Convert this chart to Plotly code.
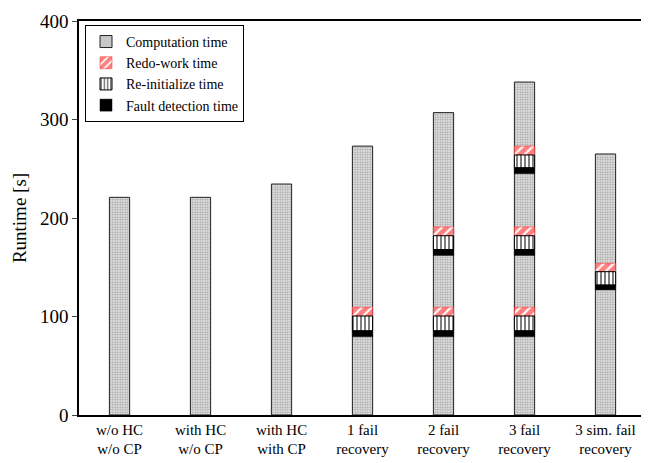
import plotly.graph_objects as go

categories = ["w/o HC<br>w/o CP", "with HC<br>w/o CP", "with HC<br>with CP",
              "1 fail<br>recovery", "2 fail<br>recovery", "3 fail<br>recovery",
              "3 sim. fail<br>recovery"]
total_runtime = [221, 221, 234.5, 273, 307, 338, 265]

# one entry per failure event
fail_category = [3, 4, 4, 5, 5, 5, 6]
detect_start = [79.5, 79.5, 162, 79.5, 162, 245, 127]
detect_time = [6, 6, 6, 6, 6, 6, 5]
reinit_time = [15, 15, 14, 15, 14, 13, 13.5]
redo_time = [9, 9, 9, 9, 9, 9, 8.5]

y_ticks = [0, 100, 200, 300, 400]

fx = [categories[i] for i in fail_category]
reinit_base = [s + d for s, d in zip(detect_start, detect_time)]
redo_base = [b + r for b, r in zip(reinit_base, reinit_time)]

FONT = "Liberation Serif, Times New Roman, serif"
W = 0.25

fig = go.Figure()
fig.add_trace(go.Bar(
    name="Computation time", x=categories, y=total_runtime, base=[0] * len(categories),
    width=W,
    marker=dict(color="#d4d4d4", line=dict(color="#222", width=1),
                pattern=dict(shape=".", fgcolor="#5a5a5a", bgcolor="#e0e0e0",
                             size=2.5, solidity=0.4)),
))
fig.add_trace(go.Bar(
    name="Redo-work time", x=fx, y=redo_time, base=redo_base, width=W,
    marker=dict(color="white", line=dict(color="#ff2020", width=0.5),
                pattern=dict(shape="/", fgcolor="#ff0000", bgcolor="white",
                             size=7, solidity=0.7)),
))
fig.add_trace(go.Bar(
    name="Re-initialize time", x=fx, y=reinit_time, base=reinit_base, width=W,
    marker=dict(color="white", line=dict(color="black", width=1),
                pattern=dict(shape="|", fgcolor="black", bgcolor="white",
                             size=4, solidity=0.5)),
))
fig.add_trace(go.Bar(
    name="Fault detection time", x=fx, y=detect_time, base=detect_start, width=W,
    marker=dict(color="black", line=dict(color="black", width=0.5)),
))

fig.update_layout(
    width=649, height=463,
    margin=dict(l=71, r=11, t=13, b=56, autoexpand=False),
    barmode="overlay",
    plot_bgcolor="white", paper_bgcolor="white",
    font=dict(family=FONT, size=16, color="black"),
    showlegend=True,
    legend=dict(x=0.0106, y=0.99, xanchor="left", yanchor="top",
                bordercolor="black", borderwidth=1, bgcolor="white",
                font=dict(family=FONT, size=14), tracegroupgap=0,
                itemwidth=30, traceorder="normal"),
    xaxis=dict(range=[-0.5, 6.5], showline=True, linecolor="black", linewidth=1.5,
               mirror=True, ticks="", showgrid=False, automargin=False,
               tickfont=dict(family=FONT, size=15)),
    yaxis=dict(range=[0, 400], tickvals=y_ticks, showline=True, linecolor="black",
               linewidth=1.5, mirror=True, ticks="outside", ticklen=5, tickwidth=1,
               showgrid=False, zeroline=False, automargin=False,
               title=dict(text="Runtime [s]", font=dict(family=FONT, size=19), standoff=8),
               tickfont=dict(family=FONT, size=19)),
)

fig.write_html("out.html")
